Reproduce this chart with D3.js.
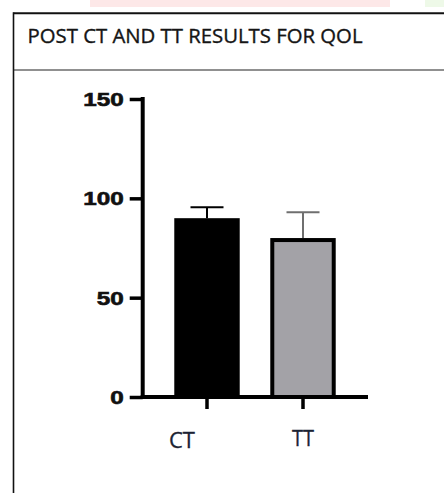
<!DOCTYPE html>
<html>
<head>
<meta charset="utf-8">
<script src="https://cdn.jsdelivr.net/npm/d3@7"></script>
<style>
  html, body { margin: 0; padding: 0; background: #fff; }
  svg { display: block; }
</style>
</head>
<body>
<svg id="chart"></svg>
<script>
const title = "POST CT AND TT RESULTS FOR QOL";
const groups = ["CT", "TT"];
const means = [89, 79];
const errors = [6.5, 14];
const yTicks = [0, 50, 100, 150];

const width = 444;
const height = 493;

const fills = { CT: "#000000", TT: "#a3a2a7" };
const errColors = { CT: "#000000", TT: "#6f6f6f" };
// word-style labels sit a bit off the graph ticks
const labelShift = { CT: -25, TT: 0 };

const svg = d3.select("#chart")
    .attr("width", width)
    .attr("height", height)
    .attr("viewBox", [0, 0, width, height]);

// faint watermark remnants at the top edge
svg.append("rect").attr("x", 90).attr("y", 0).attr("width", 300).attr("height", 7).attr("fill", "#fde8e8");
svg.append("rect").attr("x", 425).attr("y", 0).attr("width", 19).attr("height", 7).attr("fill", "#eef9e8");

// table frame
svg.append("line").attr("x1", 13.5).attr("x2", width).attr("y1", 13.3).attr("y2", 13.3)
    .attr("stroke", "#111").attr("stroke-width", 2);
svg.append("line").attr("x1", 13.5).attr("x2", 13.5).attr("y1", 12.3).attr("y2", height)
    .attr("stroke", "#111").attr("stroke-width", 1.6);
svg.append("line").attr("x1", 13.5).attr("x2", width).attr("y1", 70).attr("y2", 70)
    .attr("stroke", "#222").attr("stroke-width", 1.2);

svg.append("text")
    .attr("x", 27.5)
    .attr("y", 42.5)
    .attr("font-family", "'Open Sans', sans-serif")
    .attr("font-size", 20)
    .attr("fill", "#151515")
    .attr("stroke", "#151515")
    .attr("stroke-width", 0.35)
    .attr("textLength", 335)
    .attr("lengthAdjust", "spacingAndGlyphs")
    .text(title);

const axisX = 142.7;
const axisEnd = 368;

const y = d3.scaleLinear().domain([0, 150]).range([397, 99]);
const x = d3.scaleBand().domain(groups).range([159, 351])
    .paddingInner(0.36).paddingOuter(0.18);

const g = svg.append("g");

// y axis
const yAxis = g.append("g")
    .attr("transform", `translate(${axisX},0)`)
    .call(d3.axisLeft(y).tickValues(yTicks).tickSize(13).tickPadding(6).tickSizeOuter(0));
yAxis.select(".domain").attr("stroke", "#000").attr("stroke-width", 4)
    .attr("d", `M0,${y(150) - 2}V${y(0) + 2}`);
yAxis.selectAll(".tick line").attr("stroke", "#000").attr("stroke-width", 3.5);
yAxis.selectAll(".tick text")
    .attr("font-family", "'Liberation Sans', Arial, sans-serif")
    .attr("font-weight", "bold")
    .attr("font-size", 18)
    .attr("fill", "#111")
    .attr("stroke", "#111")
    .attr("stroke-width", 0.6)
    .attr("dy", "0.36em")
    .attr("textLength", d => String(d).length * 13.5)
    .attr("lengthAdjust", "spacingAndGlyphs");

// bars
g.selectAll("rect.bar")
    .data(groups)
    .join("rect")
    .attr("class", "bar")
    .attr("x", d => x(d))
    .attr("y", (d, i) => y(means[i]))
    .attr("width", x.bandwidth())
    .attr("height", (d, i) => y(0) - y(means[i]))
    .attr("fill", d => fills[d])
    .attr("stroke", "#000")
    .attr("stroke-width", 4);

// error bars (upper only)
const capW = 33;
const eb = g.selectAll("g.err")
    .data(groups)
    .join("g")
    .attr("class", "err");
eb.append("line")
    .attr("x1", d => x(d) + x.bandwidth() / 2)
    .attr("x2", d => x(d) + x.bandwidth() / 2)
    .attr("y1", (d, i) => y(means[i]) - 2)
    .attr("y2", (d, i) => y(means[i] + errors[i]))
    .attr("stroke", d => errColors[d])
    .attr("stroke-width", 2);
eb.append("line")
    .attr("x1", d => x(d) + x.bandwidth() / 2 - capW / 2)
    .attr("x2", d => x(d) + x.bandwidth() / 2 + capW / 2)
    .attr("y1", (d, i) => y(means[i] + errors[i]))
    .attr("y2", (d, i) => y(means[i] + errors[i]))
    .attr("stroke", d => errColors[d])
    .attr("stroke-width", 2);

// x axis
const xAxis = g.append("g")
    .attr("transform", `translate(0,${y(0)})`)
    .call(d3.axisBottom(x).tickSize(12).tickSizeOuter(0).tickFormat(""));
xAxis.select(".domain").attr("stroke", "#000").attr("stroke-width", 4)
    .attr("d", `M${axisX - 2},0H${axisEnd}`);
xAxis.selectAll(".tick line").attr("stroke", "#000").attr("stroke-width", 3.5);

// category labels
g.selectAll("text.cat")
    .data(groups)
    .join("text")
    .attr("class", "cat")
    .attr("x", d => x(d) + x.bandwidth() / 2 + labelShift[d])
    .attr("y", d => d === "CT" ? 448 : 446)
    .attr("text-anchor", "middle")
    .attr("font-family", "'Open Sans', sans-serif")
    .attr("font-size", 21)
    .attr("fill", "#1b2233")
    .attr("stroke", "#1b2233")
    .attr("stroke-width", 0.3)
    .attr("textLength", d => d === "CT" ? 26 : 22)
    .attr("lengthAdjust", "spacingAndGlyphs")
    .text(d => d);
</script>
</body>
</html>
